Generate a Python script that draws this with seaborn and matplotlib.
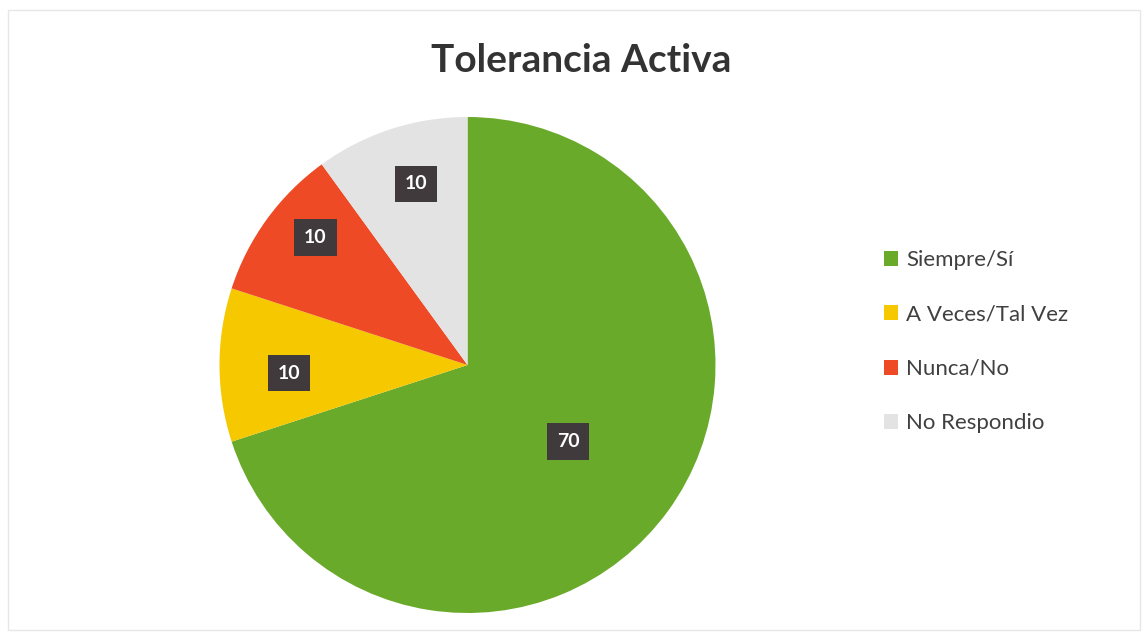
import matplotlib.pyplot as plt
import seaborn as sns
from matplotlib.patches import Rectangle
import numpy as np

categories = ["Siempre/Sí", "A Veces/Tal Vez", "Nunca/No", "No Respondio"]
values = [70, 10, 10, 10]
colors = ["#6aaa2a", "#f5c800", "#ee4a25", "#e3e3e3"]
title = "Tolerancia Activa"

# value-box placement: distance from centre (fraction of radius) and angle nudge (deg)
label_r = [0.51, 0.72, 0.80, 0.76]
label_nudge = [-1.2, 2.6, -4.0, -2.1]

sns.set_theme(style="white")
plt.rcParams["font.family"] = ["Lato", "DejaVu Sans"]

fig = plt.figure(figsize=(11.45, 6.35), dpi=100)
fig.patch.set_facecolor("white")

cx, cy, r = 467.5, 365, 248
ax = fig.add_axes([(cx - r) / 1145, (635 - cy - r) / 635, 2 * r / 1145, 2 * r / 635])
wedges, _ = ax.pie(values, colors=sns.color_palette(colors), startangle=90,
                   counterclock=False, radius=1,
                   wedgeprops=dict(linewidth=0))
ax.set_xlim(-1, 1)
ax.set_ylim(-1, 1)
ax.set_aspect("equal")
ax.axis("off")

for w, v, lr, nd in zip(wedges, values, label_r, label_nudge):
    mid = np.deg2rad((w.theta1 + w.theta2) / 2 + nd)
    ax.text(lr * np.cos(mid), lr * np.sin(mid), str(v), ha="center", va="center",
            fontsize=14, fontweight="bold", color="white",
            bbox=dict(boxstyle="square,pad=0.5", fc="#403a3c", ec="none"))

fig.text(581 / 1145, 1 - 60 / 635, title, ha="center", va="center",
         fontsize=28, fontweight="bold", color="#333333")

handles = [Rectangle((0, 0), 1, 1, fc=c, ec="none") for c in colors]
fig.legend(handles, categories, loc="upper left",
           bbox_to_anchor=(864 / 1145, 1 - 230 / 635), frameon=False,
           fontsize=16, handlelength=0.65, handleheight=0.65,
           handletextpad=0.35, labelspacing=1.55, labelcolor="#404040")

# faint chart-area border
fig.add_artist(Rectangle((8 / 1145, 5 / 635), 1132 / 1145, 620 / 635,
                         transform=fig.transFigure, fill=False,
                         ec="#e6e6e6", lw=1))

fig.savefig("out.png", dpi=100)
